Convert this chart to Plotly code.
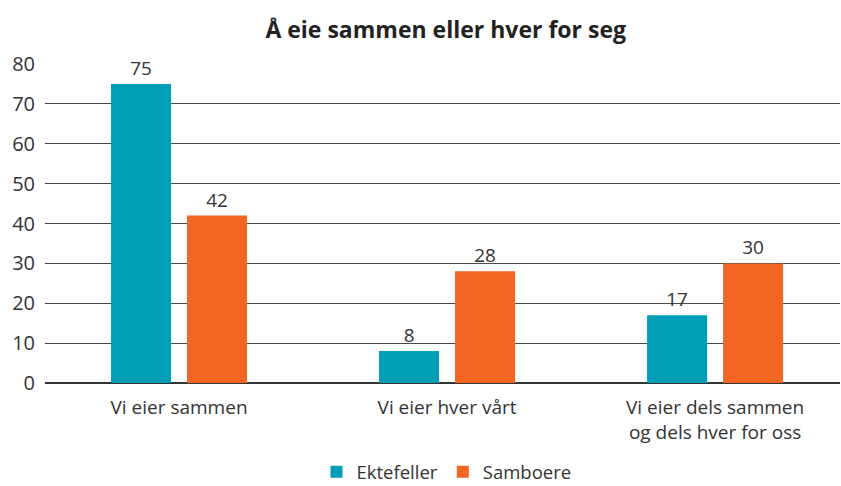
import plotly.graph_objects as go

categories = ["Vi eier sammen", "Vi eier hver vårt", "Vi eier dels sammen<br>og dels hver for oss"]
ektefeller = [75, 8, 17]
samboere = [42, 28, 30]
yticks = [0, 10, 20, 30, 40, 50, 60, 70, 80]

font = "Open Sans"
fig = go.Figure()
fig.add_trace(go.Bar(name="Ektefeller", x=categories, y=ektefeller, marker_color="#009EB7",
                     marker_line=dict(width=0), text=ektefeller, textposition="outside",
                     textfont=dict(size=19, color="#333333"), cliponaxis=False))
fig.add_trace(go.Bar(name="Samboere", x=categories, y=samboere, marker_color="#F26522",
                     marker_line=dict(width=0), text=samboere, textposition="outside",
                     textfont=dict(size=19, color="#333333"), cliponaxis=False))
fig.update_layout(
    width=841, height=486,
    margin=dict(l=45, r=1, t=64, b=103, autoexpand=False),
    paper_bgcolor="white", plot_bgcolor="white",
    font=dict(family=font, color="#333333", size=18),
    title=dict(text="<b>Å eie sammen eller hver for seg</b>", x=0.53, xanchor="center",
               y=0.938, yanchor="middle", font=dict(size=23, color="#222222")),
    barmode="group", bargap=0.433, bargroupgap=0.21,
    legend=dict(orientation="h", x=0.505, xanchor="center", y=-0.28, yanchor="middle",
                font=dict(size=18.5), itemsizing="constant"),
    xaxis=dict(showgrid=False, tickfont=dict(size=19), ticks="", automargin=False,
               ticklabelstandoff=11, range=[-0.5, 2.466]),
    yaxis=dict(range=[0, 80], tickvals=yticks, showgrid=True, gridcolor="#4a4a4a", gridwidth=1.3,
               zeroline=True, zerolinecolor="#333333", zerolinewidth=1.6, automargin=False,
               tickfont=dict(size=20), ticklabelstandoff=9),
)
fig.write_html("out.html", config={"responsive": False, "displayModeBar": False},
               post_script="document.body.style.margin='0';document.body.style.overflow='hidden';")
